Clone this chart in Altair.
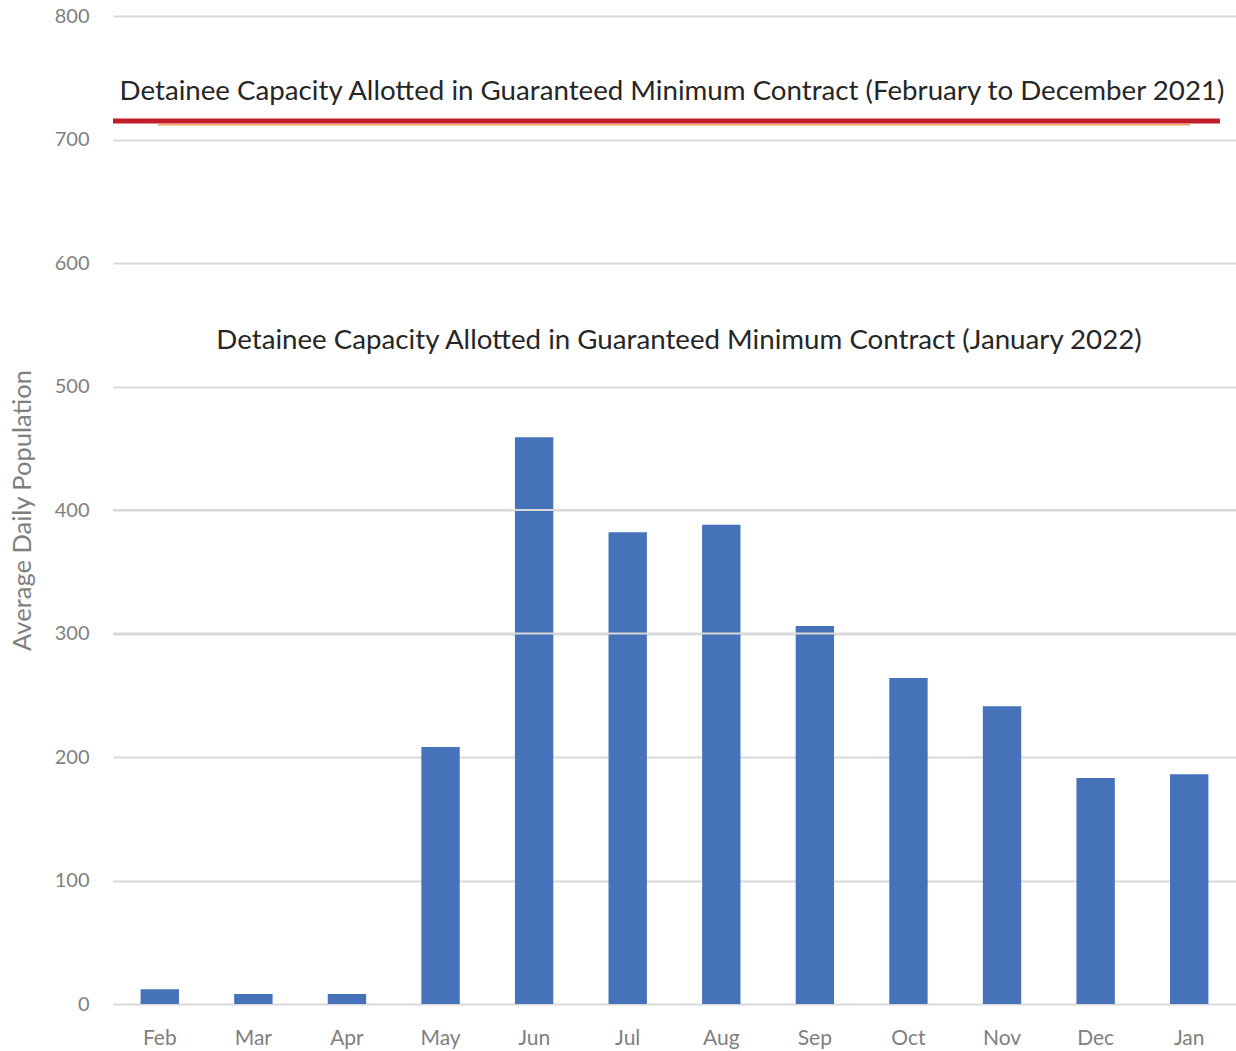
import altair as alt
import pandas as pd

months = ["Feb", "Mar", "Apr", "May", "Jun", "Jul", "Aug", "Sep", "Oct", "Nov", "Dec", "Jan"]
population = [12, 8, 8, 208, 459, 382, 388, 306, 264, 241, 183, 186]

capacity_2021 = 715
capacity_2021_shadow = 712
label_2021 = "Detainee Capacity Allotted in Guaranteed Minimum Contract (February to December 2021)"
label_2021_y = 738.5
label_2022 = "Detainee Capacity Allotted in Guaranteed Minimum Contract (January 2022)"
label_2022_y = 536.5
overlay_grid = [300, 400]

W, H = 1123, 988
FONT = "Lato"
YSCALE = alt.Scale(domain=[0, 800], nice=False)

df = pd.DataFrame({"month": months, "pop": population})

x = alt.X("month:N", sort=months, title=None,
          scale=alt.Scale(paddingInner=0.59, paddingOuter=0.295),
          axis=alt.Axis(labelAngle=0, labelFontSize=21, labelColor="#7f7f7f",
                        labelFont=FONT, ticks=False, domain=False, labelPadding=23,
                        grid=False))
y = alt.Y("pop:Q", title="Average Daily Population", scale=YSCALE,
          axis=alt.Axis(values=list(range(0, 801, 100)), labelFontSize=20,
                        labelColor="#7f7f7f", labelFont=FONT, ticks=False, domain=False,
                        labelPadding=24, gridColor="#d9d9d9", gridWidth=2,
                        titleFontSize=25.5, titleColor="#7f7f7f", titleFont=FONT,
                        titleFontWeight="normal", titlePadding=19))

bars = alt.Chart(df).mark_bar(color="#4672B9").encode(x=x, y=y)

grid_over = alt.Chart(pd.DataFrame({"v": overlay_grid})).mark_rule(
    color="#d9d9d9", strokeWidth=2).encode(y=alt.Y("v:Q", scale=YSCALE, axis=None))

shadow = alt.Chart(pd.DataFrame({"v": [capacity_2021_shadow]})).mark_rule(
    color="#F4A460", strokeWidth=1.5).encode(
    y=alt.Y("v:Q", scale=YSCALE, axis=None), x=alt.value(45), x2=alt.value(1077))

red = alt.Chart(pd.DataFrame({"v": [capacity_2021]})).mark_rule(
    color="#C21E29", strokeWidth=5).encode(
    y=alt.Y("v:Q", scale=YSCALE, axis=None), x=alt.value(0), x2=alt.value(1107))

texts = alt.Chart(pd.DataFrame({
    "t": [label_2021, label_2022],
    "v": [label_2021_y, label_2022_y],
    "xo": [559, 566],
})).mark_text(fontSize=27.7, font=FONT, color="#262626", align="center",
              baseline="middle").encode(
    y=alt.Y("v:Q", scale=YSCALE, axis=None),
    x=alt.X("xo:Q", scale=alt.Scale(domain=[0, W]), axis=None),
    text="t:N")

chart = alt.layer(bars, grid_over, shadow, red, texts).resolve_scale(
    x="independent"
).resolve_axis(y="independent").properties(
    width=W, height=H,
    background="white",
    autosize=alt.AutoSizeParams(type="none"),
    padding={"left": 113, "top": 16, "right": 0, "bottom": 47},
).configure_view(stroke=None)

chart.save("out.html", embed_options={"renderer": "svg", "actions": False})
